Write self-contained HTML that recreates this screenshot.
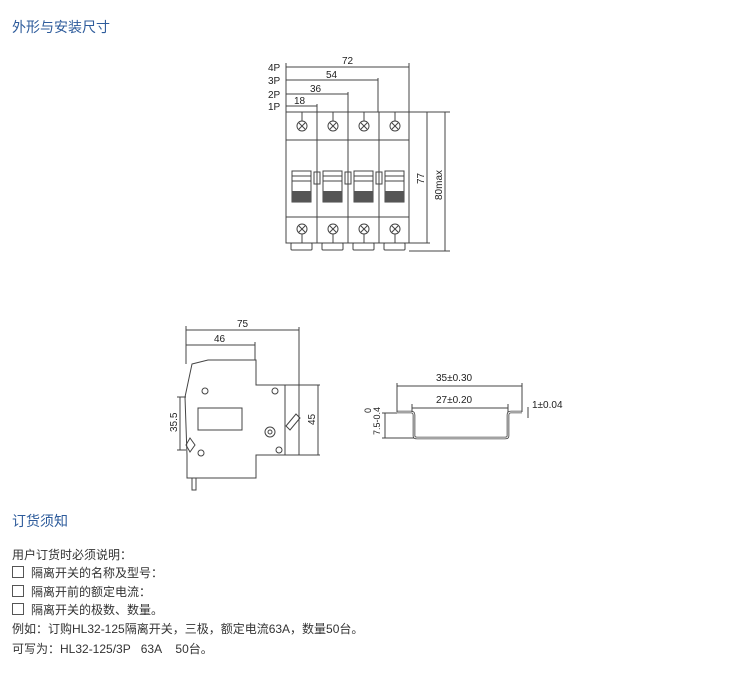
<!DOCTYPE html>
<html><head><meta charset="utf-8"><style>
body{margin:0;background:#fff;width:750px;height:674px;overflow:hidden;position:relative;font-family:"Liberation Sans","Noto Sans CJK SC",sans-serif}
.h{position:absolute;left:12px;color:#2d5b9b;font-size:14px}
.t{position:absolute;left:12px;font-size:12px;color:#333;line-height:14px}
.cb{display:inline-block;width:10px;height:10px;border:1px solid #555;vertical-align:-1px;margin-right:7px}
</style></head><body>
<div class="h" style="top:17px">外形与安装尺寸</div>
<div class="h" style="top:511px">订货须知</div>
<div class="t" style="top:548px">用户订货时必须说明：</div>
<div class="t" style="top:566px"><span class="cb"></span>隔离开关的名称及型号：</div>
<div class="t" style="top:585px"><span class="cb"></span>隔离开前的额定电流：</div>
<div class="t" style="top:603px"><span class="cb"></span>隔离开关的极数、数量。</div>
<div class="t" style="top:622px">例如：订购HL32-125隔离开关，三极，额定电流63A，数量50台。</div>
<div class="t" style="top:642px">可写为：HL32-125/3P&nbsp;&nbsp;&nbsp;63A&nbsp;&nbsp;&nbsp;&nbsp;50台。</div>
<svg width="750" height="674" style="position:absolute;left:0;top:0" font-family="Liberation Sans, sans-serif" font-size="10" fill="#222">
<g stroke="#444" stroke-width="1" fill="none">
<!-- front view -->
<rect x="286" y="112" width="123" height="131"/>
<line x1="286" y1="140" x2="409" y2="140"/><line x1="286" y1="217" x2="409" y2="217"/>
<line x1="317" y1="112" x2="317" y2="243"/><line x1="348" y1="112" x2="348" y2="243"/><line x1="379" y1="112" x2="379" y2="243"/>
<g id="sc"><circle cx="302" cy="126" r="5"/><line x1="299" y1="123" x2="305" y2="129"/><line x1="305" y1="123" x2="299" y2="129"/><line x1="302" y1="112" x2="302" y2="121"/>
<circle cx="302" cy="229" r="5"/><line x1="299" y1="226" x2="305" y2="232"/><line x1="305" y1="226" x2="299" y2="232"/><line x1="302" y1="234" x2="302" y2="243"/>
<rect x="292" y="171" width="19" height="31"/><line x1="292" y1="176" x2="311" y2="176"/><line x1="292" y1="181" x2="311" y2="181"/>
<rect x="291" y="243" width="21" height="7" rx="1"/></g>
<use href="#sc" x="31"/><use href="#sc" x="62"/><use href="#sc" x="93"/>
<rect x="314" y="172" width="6" height="12"/><rect x="345" y="172" width="6" height="12"/><rect x="376" y="172" width="6" height="12"/>
<line x1="286" y1="63" x2="286" y2="112"/>
<line x1="286" y1="67" x2="409" y2="67"/><line x1="409" y1="63" x2="409" y2="112"/>
<line x1="286" y1="80" x2="378" y2="80"/><line x1="378" y1="78" x2="378" y2="112"/>
<line x1="286" y1="94" x2="348" y2="94"/><line x1="348" y1="92" x2="348" y2="112"/>
<line x1="286" y1="106" x2="317" y2="106"/><line x1="317" y1="104" x2="317" y2="112"/>
<line x1="409" y1="112" x2="450" y2="112"/><line x1="409" y1="243" x2="430" y2="243"/><line x1="409" y1="251" x2="450" y2="251"/>
<line x1="427" y1="112" x2="427" y2="243"/><line x1="445" y1="112" x2="445" y2="251"/>
<!-- side view -->
<path d="M192 364 L208 360 L256 360 L256 385 L285 385 L285 455 L256 455 L256 478 L187 478 L187 455 L185 397 Z"/>
<path d="M186 445 L190 438 L195 445 L190 452 Z"/>
<rect x="192" y="478" width="4" height="12"/>
<circle cx="205" cy="391" r="3"/><circle cx="275" cy="391" r="3"/><circle cx="201" cy="453" r="3"/><circle cx="279" cy="450" r="3"/>
<rect x="198" y="408" width="44" height="22"/>
<circle cx="270" cy="432" r="5"/><circle cx="270" cy="432" r="2"/>
<path d="M286 426 L296 414 L300 418 L290 430 Z"/>
<line x1="186" y1="326" x2="186" y2="364"/><line x1="186" y1="330" x2="299" y2="330"/><line x1="299" y1="327" x2="299" y2="455"/>
<line x1="186" y1="345" x2="255" y2="345"/><line x1="255" y1="342" x2="255" y2="360"/>
<line x1="180" y1="397" x2="180" y2="450"/><line x1="177" y1="397" x2="186" y2="397"/><line x1="177" y1="450" x2="186" y2="450"/>
<line x1="285" y1="385" x2="320" y2="385"/><line x1="285" y1="455" x2="320" y2="455"/><line x1="318" y1="385" x2="318" y2="455"/>
<!-- rail -->
<path d="M397 412 L411 412 Q414 412 414 415 L414 436 Q414 438 417 438 L505 438 Q508 438 508 436 L508 415 Q508 412 511 412 L522 412" stroke-width="2.6"/>
<path d="M397 412 L411 412 Q414 412 414 415 L414 436 Q414 438 417 438 L505 438 Q508 438 508 436 L508 415 Q508 412 511 412 L522 412" stroke="#fff" stroke-width="0.9"/>
<line x1="397" y1="383" x2="397" y2="412"/><line x1="522" y1="383" x2="522" y2="412"/><line x1="397" y1="386" x2="522" y2="386"/>
<line x1="412" y1="404" x2="412" y2="412"/><line x1="508" y1="404" x2="508" y2="412"/><line x1="412" y1="408" x2="508" y2="408"/>
<line x1="385" y1="413" x2="385" y2="438"/><line x1="382" y1="413" x2="397" y2="413"/><line x1="382" y1="438" x2="414" y2="438"/>
<line x1="528" y1="407" x2="528" y2="418"/>
</g>
<g fill="#333" stroke="#333" stroke-width="2"><line x1="300" y1="192" x2="311" y2="192"/><line x1="292" y1="197" x2="311" y2="197"/><line x1="292" y1="201" x2="311" y2="201"/>
<line x1="323" y1="197" x2="342" y2="197"/><line x1="323" y1="201" x2="342" y2="201"/><line x1="354" y1="197" x2="373" y2="197"/><line x1="354" y1="201" x2="373" y2="201"/><line x1="385" y1="197" x2="404" y2="197"/><line x1="385" y1="201" x2="404" y2="201"/></g>
<g fill="#555"><rect x="292" y="191" width="19" height="11"/><rect x="323" y="191" width="19" height="11"/><rect x="354" y="191" width="19" height="11"/><rect x="385" y="191" width="19" height="11"/></g>
<text x="268" y="71">4P</text><text x="268" y="84">3P</text><text x="268" y="98">2P</text><text x="268" y="110">1P</text>
<text x="342" y="64">72</text><text x="326" y="78">54</text><text x="310" y="92">36</text><text x="294" y="104">18</text>
<text transform="translate(424,184) rotate(-90)">77</text>
<text transform="translate(442,200) rotate(-90)">80max</text>
<text x="237" y="327">75</text><text x="214" y="342">46</text>
<text transform="translate(177,432) rotate(-90)">35.5</text>
<text transform="translate(315,425) rotate(-90)">45</text>
<text x="436" y="381">35±0.30</text><text x="436" y="403">27±0.20</text><text x="532" y="408">1±0.04</text>
<text transform="translate(371,413) rotate(-90)" font-size="9">0</text>
<text transform="translate(380,435) rotate(-90)" font-size="9">7.5-0.4</text>
</svg>
</body></html>
